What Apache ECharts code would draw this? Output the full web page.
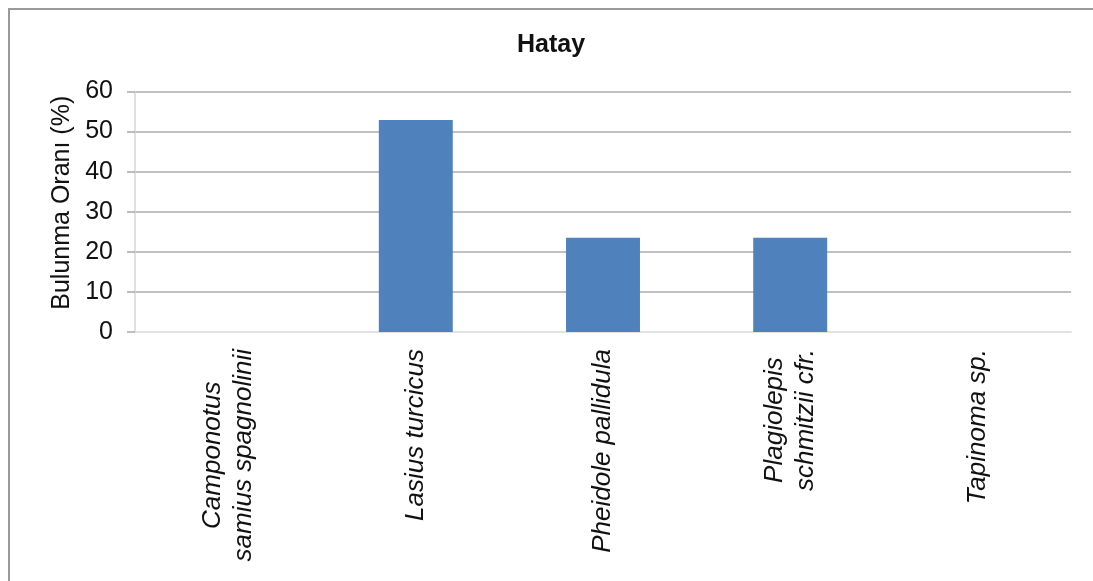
<!DOCTYPE html>
<html>
<head>
<meta charset="utf-8">
<style>
  html, body { margin: 0; padding: 0; background: #ffffff; }
  #chart { width: 1093px; height: 581px; }
</style>
<script src="https://cdn.jsdelivr.net/npm/echarts@6/dist/echarts.min.js"></script>
</head>
<body>
<div id="chart"></div>
<script>
// Species found in Hatay and their occurrence rate (%)
const species = [
  'Camponotus\nsamius spagnolinii',
  'Lasius turcicus',
  'Pheidole pallidula',
  'Plagiolepis\nschmitzii cfr.',
  'Tapinoma sp.'
];
const occurrence = [0, 52.9, 23.5, 23.5, 0];
const yTicks = { min: 0, max: 60, interval: 10 };

const FONT = '"Liberation Sans", Arial, sans-serif';
const chart = echarts.init(document.getElementById('chart'));

chart.setOption({
  animation: false,
  backgroundColor: '#ffffff',
  textStyle: { fontFamily: FONT },
  title: {
    text: 'Hatay',
    left: 517,
    top: 33,
    padding: 0,
    textStyle: { fontFamily: FONT, fontSize: 25, fontWeight: 'bold', color: '#111' }
  },
  graphic: [{
    type: 'rect',
    shape: { x: 9, y: 9, width: 1300, height: 800 },
    style: { fill: 'none', stroke: '#9a9a9a', lineWidth: 2 },
    silent: true
  }],
  grid: { left: 135, right: 22, top: 91.5, height: 240.5, containLabel: false },
  xAxis: {
    type: 'category',
    data: species,
    axisLine: { show: true, lineStyle: { color: '#e2e2e2', width: 2 } },
    axisTick: { show: false },
    axisLabel: {
      rotate: 90,
      interval: 0,
      margin: 17,
      formatter: function (v) {
        return v.split('\n').map(function (s) { return '{c|' + s + '}'; }).join('\n');
      },
      rich: {
        c: {
          align: 'center',
          fontFamily: FONT,
          fontStyle: 'italic',
          fontSize: 26,
          lineHeight: 31,
          color: '#111'
        }
      }
    }
  },
  yAxis: {
    type: 'value',
    min: yTicks.min,
    max: yTicks.max,
    interval: yTicks.interval,
    name: 'Bulunma Oranı (%)',
    nameLocation: 'middle',
    nameRotate: 90,
    nameGap: 59,
    nameTextStyle: { fontFamily: FONT, fontSize: 25, color: '#111', padding: [0, 0, 0, 18] },
    axisLine: { show: true, lineStyle: { color: '#d6d6d6', width: 1.5 } },
    axisTick: { show: true, length: 8, lineStyle: { color: '#a8a8a8', width: 1.5 } },
    axisLabel: { margin: 22, fontFamily: FONT, fontSize: 25, color: '#111' },
    splitLine: { show: true, lineStyle: { color: '#ababab', width: 1.5 } }
  },
  series: [{
    type: 'bar',
    data: occurrence,
    barWidth: '39.5%',
    itemStyle: { color: '#4f81bd' }
  }]
});
</script>
</body>
</html>
